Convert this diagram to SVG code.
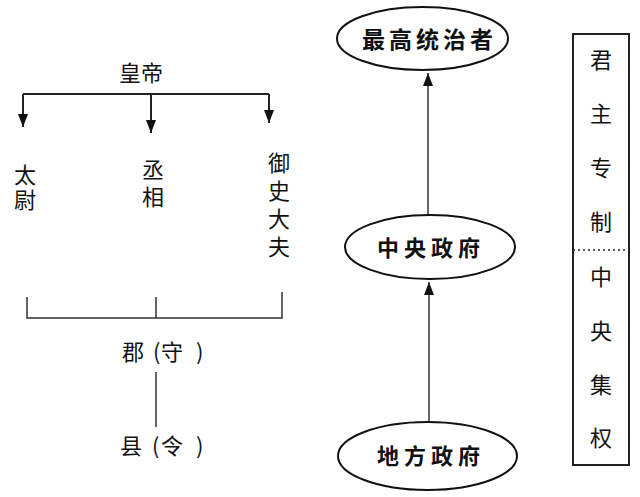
<svg xmlns="http://www.w3.org/2000/svg" width="640" height="497" viewBox="0 0 640 497">
<defs>
<style>
.t{font-family:"Noto Sans CJK SC","Noto Sans CJK JP",sans-serif;font-size:22px;fill:#111}
.v{font-family:"Noto Sans CJK SC","Noto Sans CJK JP",sans-serif;font-size:22px;fill:#111;writing-mode:vertical-rl;text-orientation:upright}
.e{font-family:"Noto Sans CJK SC","Noto Sans CJK JP",sans-serif;font-size:22px;font-weight:bold;fill:#111}
.ln{stroke:#222;stroke-width:2;fill:none}
.thin{stroke:#333;stroke-width:1.5;fill:none}
.ell{stroke:#111;stroke-width:2;fill:#fff}
</style>
<marker id="ah" markerUnits="userSpaceOnUse" markerWidth="14" markerHeight="11" refX="13" refY="5" orient="auto">
<path d="M0,0 L13,5 L0,10 z" fill="#111"/>
</marker>
</defs>
<rect width="640" height="497" fill="#fff"/>

<g id="connectors">
<path class="ln" d="M23,94 H269"/>
<line class="ln" x1="23" y1="94" x2="23" y2="127" marker-end="url(#ah)"/>
<line class="ln" x1="151" y1="94" x2="151" y2="133" marker-end="url(#ah)"/>
<line class="ln" x1="269" y1="94" x2="269" y2="123" marker-end="url(#ah)"/>
<path class="thin" d="M27,297 V318 H282 V292"/>
<line class="thin" x1="156" y1="297" x2="156" y2="318"/>
<line class="thin" x1="156" y1="372" x2="156" y2="427"/>
<line class="thin" x1="428" y1="215" x2="428" y2="73" marker-end="url(#ah)"/>
<line class="thin" x1="429" y1="422" x2="429" y2="282" marker-end="url(#ah)"/>
</g>

<g id="huangdi"><text class="t" x="141" y="81" text-anchor="middle">皇帝</text></g>
<g id="taiwei"><text class="v" x="25" y="164" style="letter-spacing:3px">太尉</text></g>
<g id="chengxiang"><text class="v" x="153" y="159" style="letter-spacing:5px">丞相</text></g>
<g id="yushidafu"><text class="v" x="279" y="152" style="letter-spacing:6px">御史大夫</text></g>
<g id="jun"><text class="t" y="360"><tspan x="122">郡</tspan><tspan x="153">(</tspan><tspan x="161">守</tspan><tspan x="196">)</tspan></text></g>
<g id="xian"><text class="t" y="454"><tspan x="120">县</tspan><tspan x="152">(</tspan><tspan x="161">令</tspan><tspan x="196">)</tspan></text></g>

<g id="zuigao">
<ellipse class="ell" cx="422.5" cy="38.5" rx="85.5" ry="31.5"/>
<text class="e" x="362" y="48" style="font-size:23px;letter-spacing:4px">最高统治者</text>
</g>
<g id="zhongyang">
<ellipse class="ell" cx="430" cy="247" rx="85" ry="32"/>
<text class="e" x="377" y="256" style="letter-spacing:5px">中央政府</text>
</g>
<g id="difang">
<ellipse class="ell" cx="427.5" cy="456" rx="89.5" ry="34"/>
<text class="e" x="377" y="464" style="letter-spacing:5px">地方政府</text>
</g>

<g id="sidebox">
<rect x="573" y="34" width="56" height="431" fill="none" stroke="#222" stroke-width="2"/>
<line x1="573" y1="250" x2="629" y2="250" stroke="#222" stroke-width="1.5" stroke-dasharray="2,3"/>
<text class="v" x="601" y="49" style="letter-spacing:32px">君主专制</text>
<text class="v" x="601" y="266" style="letter-spacing:31.7px">中央集权</text>
</g>
</svg>
